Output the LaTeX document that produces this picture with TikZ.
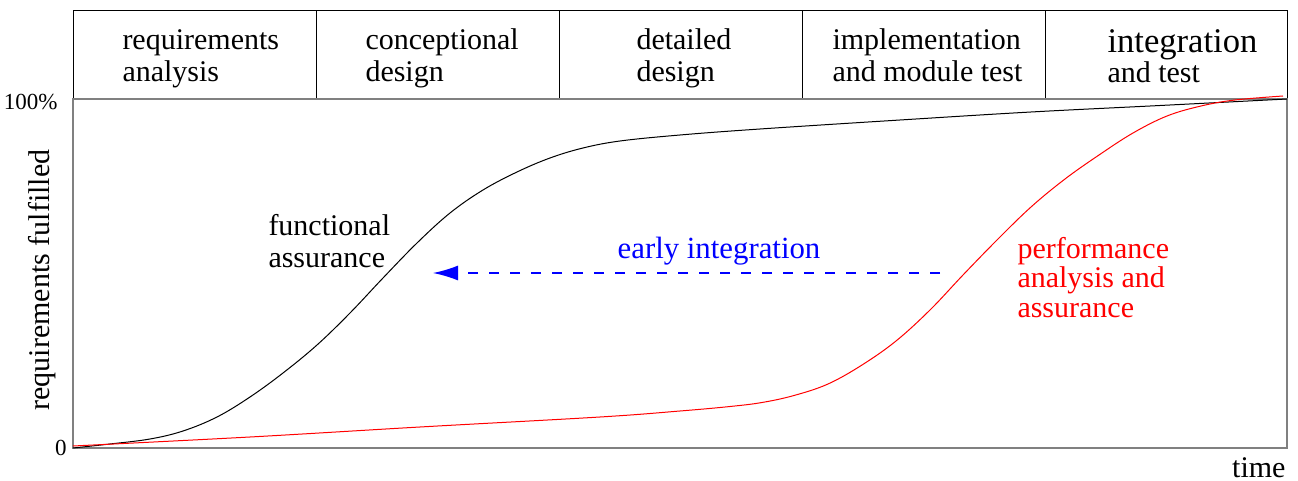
\documentclass[tikz,border=0pt]{standalone}
\usepackage{fontspec}
\setmainfont{Liberation Serif}
\usetikzlibrary{arrows.meta,positioning}
\tikzset{>={Latex[length=12.5pt,width=7.5pt]}}
\tikzset{
  phase/.style={anchor=base west, align=left, inner sep=0pt, font=\fontsize{15}{16}\selectfont},
  curvelabel/.style={anchor=base west, align=left, inner sep=0pt, font=\fontsize{15}{16.5}\selectfont},
  ticklabel/.style={anchor=base east, inner sep=0pt, font=\fontsize{11.5}{13}\selectfont},
  plotframe/.style={draw=black!50, line width=0.8pt}
}

\begin{document}
\begin{tikzpicture}[x=0.5pt, y=-0.5pt, line width=0.5pt]
		\useasboundingbox (0,0) rectangle (1298,481);
		% phases
		\draw (73,11) rectangle (1287,99);
		\foreach \xx in {316,559,802,1045}
			\draw (\xx,11) -- (\xx,99);
		\node[phase] (reqana)  at (122,82) {requirements\\analysis};
		\node[phase] (concdes) at (365,82) {conceptional\\design};
		\node[phase] (detdes)  at (636,82) {detailed\\design};
		\node[phase] (impl)    at (832,82) {implementation\\and module test};
		\node[phase, font=\fontsize{15}{15}\selectfont] (integ) at (1107,83) {{\fontsize{17.3}{15}\selectfont integration}\\and test};
		
		% plot area
		\draw[plotframe] (73,99) rectangle (1287,448);
		\node[ticklabel] (full) at (58,110) {100\%};
		\node[ticklabel] (zero) at (67,455) {0};
		\node[rotate=90, anchor=base, inner sep=0pt, font=\fontsize{15}{17}\selectfont] (ylabel) at (49,280) {requirements fulfilled};
		\node[anchor=base east, inner sep=0pt, font=\fontsize{15}{17}\selectfont] (time) at (1286,477) {time};
		
		% curves
		\draw plot[smooth, tension=0.6] coordinates {(73,448) (110,444) (150,439) (183,431) (217,417) (250,397) (283,373) (317,345) (350,313) (383,278) (417,243) (450,213) (483,190) (517,172) (550,158) (583,148) (620,141) (680,135) (760,129) (900,120) (1031,112) (1160,105.5) (1287,99)};
		\draw[red] plot[smooth, tension=0.6] coordinates {(73,446) (250,437) (420,427) (600,417) (680,411) (730,406.5) (762,402.5) (794,395.5) (828,384) (862,365) (896,341) (930,310) (963,275) (997,240) (1031,207) (1065,179) (1099,155) (1133,133) (1167,116) (1201,106) (1235,100) (1283,96)};
		\node[curvelabel] (func) at (268,268) {functional\\assurance};
		\node[curvelabel, red, font=\fontsize{15}{14.6}\selectfont] (perf) at (1017,317) {performance\\analysis and\\assurance};
		
		% early integration
		\coordinate (eistart) at (940,273);
		\coordinate (eiend) at (433,273);
		\draw[->, blue, line width=0.7pt, dash pattern=on 5pt off 5.5pt] (eistart) -- (eiend);
		\node[anchor=base, inner sep=0pt, blue, font=\fontsize{15.4}{17}\selectfont] (early) at (719,258) {early integration};
\end{tikzpicture}
\end{document}
